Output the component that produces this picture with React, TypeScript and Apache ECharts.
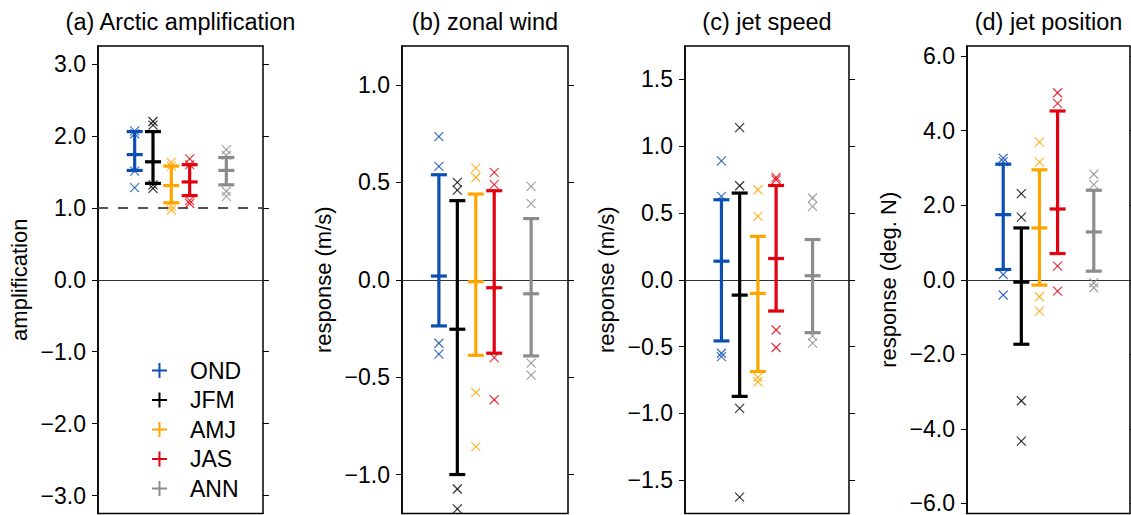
import React, { useEffect, useRef } from "react";
import * as echarts from "echarts";

// ---- data ----
const seasons = ["OND", "JFM", "AMJ", "JAS", "ANN"];
const seasonPos = [1, 2, 3, 4, 6];
const seasonColors = ["#0b4fb2", "#000000", "#ffa500", "#e3000f", "#8c8c8c"];

const panelTitles = ["(a) Arctic amplification", "(b) zonal wind", "(c) jet speed", "(d) jet position"];
const axisNames = ["amplification", "response (m/s)", "response (m/s)", "response (deg. N)"];

// (a) Arctic amplification
const ampLow = [1.52, 1.34, 1.07, 1.17, 1.32];
const ampMean = [1.74, 1.64, 1.31, 1.36, 1.52];
const ampHigh = [2.06, 2.06, 1.58, 1.6, 1.7];
const ampMarks = [
  [2.07, 2.03, 1.51, 1.28],
  [2.2, 2.15, 1.32, 1.27],
  [1.63, 1.58, 1.02, 0.97],
  [1.68, 1.6, 1.1, 1.06],
  [1.81, 1.73, 1.23, 1.16],
];
const ampTicks = [-3, -2, -1, 0, 1, 2, 3];

// (b) zonal wind
const windLow = [-0.237, -1.0, -0.388, -0.377, -0.391];
const windMean = [0.019, -0.254, -0.01, -0.041, -0.072];
const windHigh = [0.539, 0.406, 0.44, 0.457, 0.314];
const windMarks = [
  [0.735, 0.582, -0.326, -0.382],
  [0.5, 0.46, -1.074, -1.176],
  [0.573, 0.525, -0.579, -0.857],
  [0.551, 0.488, -0.4, -0.616],
  [0.479, 0.391, -0.428, -0.49],
];
const windTicks = [-1, -0.5, 0, 0.5, 1];

// (c) jet speed
const speedLow = [-0.458, -0.873, -0.687, -0.234, -0.396];
const speedMean = [0.139, -0.115, -0.102, 0.159, 0.03];
const speedHigh = [0.599, 0.649, 0.325, 0.706, 0.301];
const speedMarks = [
  [0.89, 0.624, -0.55, -0.575],
  [1.139, 0.704, -0.963, -1.627],
  [0.674, 0.475, -0.731, -0.764],
  [0.766, 0.749, -0.376, -0.507],
  [0.612, 0.549, -0.42, -0.475],
];
const speedTicks = [-1.5, -1, -0.5, 0, 0.5, 1, 1.5];

// (d) jet position
const posLow = [0.275, -1.73, -0.144, 0.703, 0.23];
const posMean = [1.746, -0.064, 1.39, 1.898, 1.283];
const posHigh = [3.1, 1.39, 2.95, 4.527, 2.4];
const posMarks = [
  [3.26, 3.17, 0.14, -0.41],
  [2.31, 1.68, -3.245, -4.33],
  [3.69, 3.155, -0.455, -0.84],
  [5.016, 4.73, 0.364, -0.305],
  [2.83, 2.55, -0.08, -0.214],
];
const posTicks = [-6, -4, -2, 0, 2, 4, 6];

const panels = [
  { low: ampLow, mean: ampMean, high: ampHigh, marks: ampMarks, ticks: ampTicks, range: [-3.25, 3.25], ref: 1 },
  { low: windLow, mean: windMean, high: windHigh, marks: windMarks, ticks: windTicks, range: [-1.2, 1.2], ref: null },
  { low: speedLow, mean: speedMean, high: speedHigh, marks: speedMarks, ticks: speedTicks, range: [-1.75, 1.75], ref: null },
  { low: posLow, mean: posMean, high: posHigh, marks: posMarks, ticks: posTicks, range: [-6.27, 6.27], ref: null },
];

// layout
const gridLefts = [98, 402, 685, 967];
const gridWidths = [165, 166, 164, 163];
const FONT = "Liberation Sans, Arial, Helvetica, sans-serif";

const fmt = (v: number) => (v < 0 ? "\u2212" : "") + Math.abs(v).toFixed(1);

const renderItem = (params: any, api: any) => {
  const x = api.value(0);
  const lo = api.coord([x, api.value(1)]);
  const mid = api.coord([x, api.value(2)]);
  const hi = api.coord([x, api.value(3)]);
  const color = api.visual("color");
  const hw = 8;
  const children: any[] = [];
  children.push({
    type: "line",
    shape: { x1: lo[0], y1: lo[1], x2: hi[0], y2: hi[1] },
    style: { stroke: color, lineWidth: 3.2 },
  });
  [lo, mid, hi].forEach((p) => {
    children.push({
      type: "line",
      shape: { x1: p[0] - hw, y1: p[1], x2: p[0] + hw, y2: p[1] },
      style: { stroke: color, lineWidth: 3.2 },
    });
  });
  for (let k = 4; k < 8; k++) {
    const p = api.coord([x, api.value(k)]);
    const s = 4.5;
    children.push({
      type: "line",
      shape: { x1: p[0] - s, y1: p[1] - s, x2: p[0] + s, y2: p[1] + s },
      style: { stroke: color, lineWidth: 1.2, opacity: 0.8 },
    });
    children.push({
      type: "line",
      shape: { x1: p[0] - s, y1: p[1] + s, x2: p[0] + s, y2: p[1] - s },
      style: { stroke: color, lineWidth: 1.2, opacity: 0.8 },
    });
  }
  return { type: "group", children };
};

const plusIcon = "path://M6.5,0H8.5V6.5H15V8.5H8.5V15H6.5V8.5H0V6.5H6.5Z";

function buildOption() {
  const grid: any[] = [];
  const xAxis: any[] = [];
  const yAxis: any[] = [];
  const series: any[] = [];
  const title: any[] = [];

  panels.forEach((pn, i) => {
    grid.push({
      left: gridLefts[i],
      top: 46,
      width: gridWidths[i],
      height: 467.5,
      show: true,
      borderColor: "#000",
      borderWidth: 1.5,
      backgroundColor: "transparent",
    });
    xAxis.push({ type: "value", gridIndex: i, min: -1, max: 8, show: false });
    yAxis.push({
      type: "value",
      gridIndex: i,
      min: pn.range[0],
      max: pn.range[1],
      name: axisNames[i],
      nameLocation: "middle",
      nameGap: 68,
      nameTextStyle: { fontSize: 22, color: "#000", fontFamily: FONT },
      axisLine: { show: true, onZero: false, lineStyle: { color: "#000", width: 1.5 } },
      axisTick: { show: true, length: 6, customValues: pn.ticks, lineStyle: { color: "#000", width: 1 } },
      axisLabel: {
        show: true,
        customValues: pn.ticks,
        formatter: (v: number) => fmt(v),
        fontSize: 23,
        color: "#000",
        fontFamily: FONT,
        margin: 12,
      },
      splitLine: { show: false },
    });
    yAxis.push({
      type: "value",
      gridIndex: i,
      position: "right",
      min: pn.range[0],
      max: pn.range[1],
      axisLine: { show: false, onZero: false },
      axisTick: { show: true, length: 6, customValues: pn.ticks, lineStyle: { color: "#000", width: 1 } },
      axisLabel: { show: false },
      splitLine: { show: false },
    });
    title.push({
      text: panelTitles[i],
      left: gridLefts[i] + gridWidths[i] / 2,
      textAlign: "center",
      top: 10,
      padding: 0,
      textStyle: { fontSize: 23.5, fontWeight: "normal", color: "#000", fontFamily: FONT },
    });

    seasons.forEach((s, j) => {
      const item: any = {
        type: "custom",
        name: s,
        xAxisIndex: i,
        yAxisIndex: i * 2,
        renderItem,
        itemStyle: { color: seasonColors[j] },
        encode: { x: 0, y: [1, 2, 3, 4, 5, 6, 7] },
        data: [[seasonPos[j], pn.low[j], pn.mean[j], pn.high[j], ...pn.marks[j]]],
        clip: false,
        z: 3,
      };
      if (j === 0) {
        const lines: any[] = [{ yAxis: 0, lineStyle: { color: "#333", width: 1, type: "solid" } }];
        if (pn.ref !== null) {
          lines.push({ yAxis: pn.ref, lineStyle: { color: "#555", width: 2, type: [10, 10] } });
        }
        item.markLine = {
          silent: true,
          symbol: "none",
          label: { show: false },
          data: lines,
          z: 1,
        };
      }
      series.push(item);
    });
  });

  return {
    animation: false,
    backgroundColor: "#fff",
    title,
    grid,
    xAxis,
    yAxis,
    series,
    legend: {
      orient: "vertical",
      left: 147,
      top: 354,
      itemWidth: 15,
      itemHeight: 15,
      itemGap: 6.5,
      selectedMode: false,
      data: seasons.map((s) => ({ name: s, icon: plusIcon })),
      textStyle: { fontSize: 23, lineHeight: 23, color: "#000", fontFamily: FONT, padding: [0, 0, 0, 18] },
    },
  };
}

export default function App() {
  const ref = useRef<HTMLDivElement>(null);
  useEffect(() => {
    if (!ref.current) return;
    const chart = echarts.init(ref.current, null, { renderer: "svg" });
    chart.setOption(buildOption() as any);
    return () => chart.dispose();
  }, []);
  return (
    <div
      ref={ref}
      style={{ position: "fixed", left: 0, top: 0, width: 1131, height: 515, background: "#fff" }}
    />
  );
}
